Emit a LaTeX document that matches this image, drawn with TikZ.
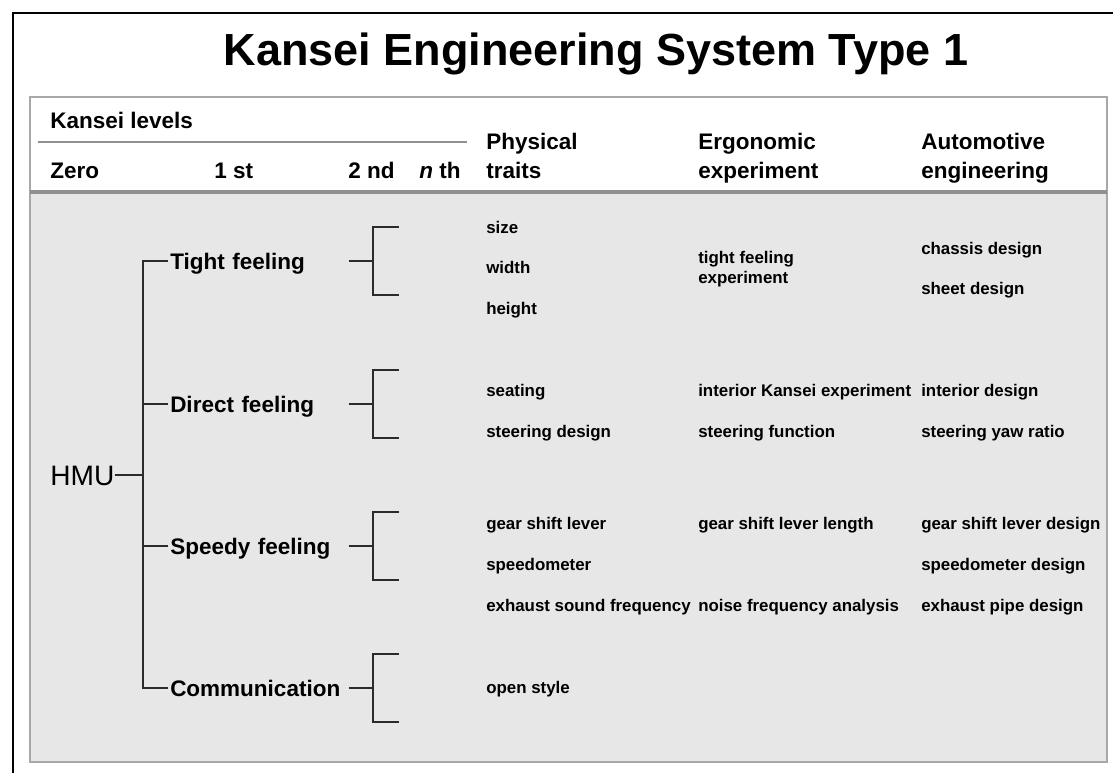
\documentclass[tikz,border=0pt]{standalone}
\usepackage{fontspec}
\setmainfont{Liberation Sans}
\usepackage{xcolor}
\usepackage{tikz}
\usetikzlibrary{positioning}
\definecolor{inkdark}{HTML}{2B2B2B}
\definecolor{boxgray}{HTML}{A8A8A8}
\definecolor{bodygray}{HTML}{E7E7E7}
\definecolor{rulegray}{HTML}{909090}
\tikzset{
  titlenode/.style={anchor=base, inner sep=0pt,
    font=\fontsize{32}{38}\selectfont\bfseries},
  headnode/.style={anchor=base west, inner sep=0pt,
    font=\fontsize{16}{20}\selectfont\bfseries},
  hmunode/.style={anchor=west, inner sep=0pt, text height=14.4pt,
    text depth=0pt, font=\fontsize{20}{24}\selectfont},
  feelnode/.style={anchor=west, inner xsep=1.4pt, inner ysep=0pt,
    text width=4.4cm, text height=11.5pt, text depth=0pt,
    font=\fontsize{16}{19}\selectfont\bfseries},
  itemnode/.style={anchor=base west, inner sep=0pt, align=left,
    font=\fontsize{12}{14.2}\selectfont\bfseries},
  treeline/.style={draw=inkdark, line width=1.4pt},
}

\begin{document}
\begin{tikzpicture}[x=0.025cm, y=-0.025cm]
  \useasboundingbox (0,0) rectangle (1113,772);
  \fill[white] (0,0) rectangle (1113,772);
  \begin{scope}
    \clip (0,0) rectangle (1113,772);
    \draw[line width=1.8pt] (13,800) -- (13,13) -- (1130,13);
  \end{scope}

  \node[titlenode] (title) at (596,65) {Kansei Engineering System Type 1};

  % table frame
  \fill[bodygray] (30,192) rectangle (1107,762);
  \draw[boxgray, line width=2pt] (30,97) rectangle (1107,762);
  \draw[rulegray, line width=2.4pt] (30,192) -- (1107,192);
  \draw[rulegray, line width=1.3pt] (38,142) -- (467,142);

  % header
  \node[headnode] (levels) at (50,128) {Kansei levels};
  \node[headnode] (zero) at (50,178) {Zero};
  \node[headnode] (first) at (214,178) {1 st};
  \node[headnode] (second) at (348,178) {2 nd};
  \node[headnode] (nth) at (419,178) {\textit{n} th};
  \node[headnode] (phys) at (486,149) {Physical};
  \node[headnode] (traits) at (486,178) {traits};
  \node[headnode] (ergo) at (698,149) {Ergonomic};
  \node[headnode] (expt) at (698,178) {experiment};
  \node[headnode] (auto) at (921,149) {Automotive};
  \node[headnode] (engg) at (921,178) {engineering};

  % kansei tree
  \node[hmunode] (hmu) at (50,475) {HMU};
  \node[feelnode] (tight) at (168,261) {Tight feeling};
  \node[feelnode] (direct) at (168,404) {Direct feeling};
  \node[feelnode] (speedy) at (168,546) {Speedy feeling};
  \node[feelnode] (comm) at (168,688) {Communication};
  \coordinate (trunk) at (143,475);
  \draw[treeline] (hmu.east) -- (trunk);
  \draw[treeline] (tight.west) -| (trunk) |- (comm.west);
  \draw[treeline] (direct.west) -- (direct.west -| trunk);
  \draw[treeline] (speedy.west) -- (speedy.west -| trunk);
  \foreach \f in {tight,direct,speedy,comm}{
    \draw[treeline] (\f.east) -- ++(24,0) ++(26,-34) -- ++(-26,0)
      -- ++(0,68) -- ++(26,0);
  }

  % physical traits
  \node[itemnode] (size) at (486,233) {size};
  \node[itemnode] (width) at (486,273) {width};
  \node[itemnode] (height) at (486,314) {height};
  \node[itemnode] (seating) at (486,396) {seating};
  \node[itemnode] (steerdes) at (486,437) {steering design};
  \node[itemnode] (gearlever) at (486,529) {gear shift lever};
  \node[itemnode] (speedo) at (486,570) {speedometer};
  \node[itemnode] (exhaust) at (486,611) {exhaust sound frequency};
  \node[itemnode] (openstyle) at (486,693) {open style};

  % ergonomic experiment
  \node[itemnode] (tightexp) at (698,283) {tight feeling\\experiment};
  \node[itemnode] (intexp) at (698,396) {interior Kansei experiment};
  \node[itemnode] (steerfn) at (698,437) {steering function};
  \node[itemnode] (gearlen) at (698,529) {gear shift lever length};
  \node[itemnode] (noise) at (698,611) {noise frequency analysis};

  % automotive engineering
  \node[itemnode] (chassis) at (921,254) {chassis design};
  \node[itemnode] (sheet) at (921,294) {sheet design};
  \node[itemnode] (interior) at (921,396) {interior design};
  \node[itemnode] (yaw) at (921,437) {steering yaw ratio};
  \node[itemnode] (geardes) at (921,529) {gear shift lever design};
  \node[itemnode] (speedodes) at (921,570) {speedometer design};
  \node[itemnode] (pipe) at (921,611) {exhaust pipe design};
\end{tikzpicture}
\end{document}
